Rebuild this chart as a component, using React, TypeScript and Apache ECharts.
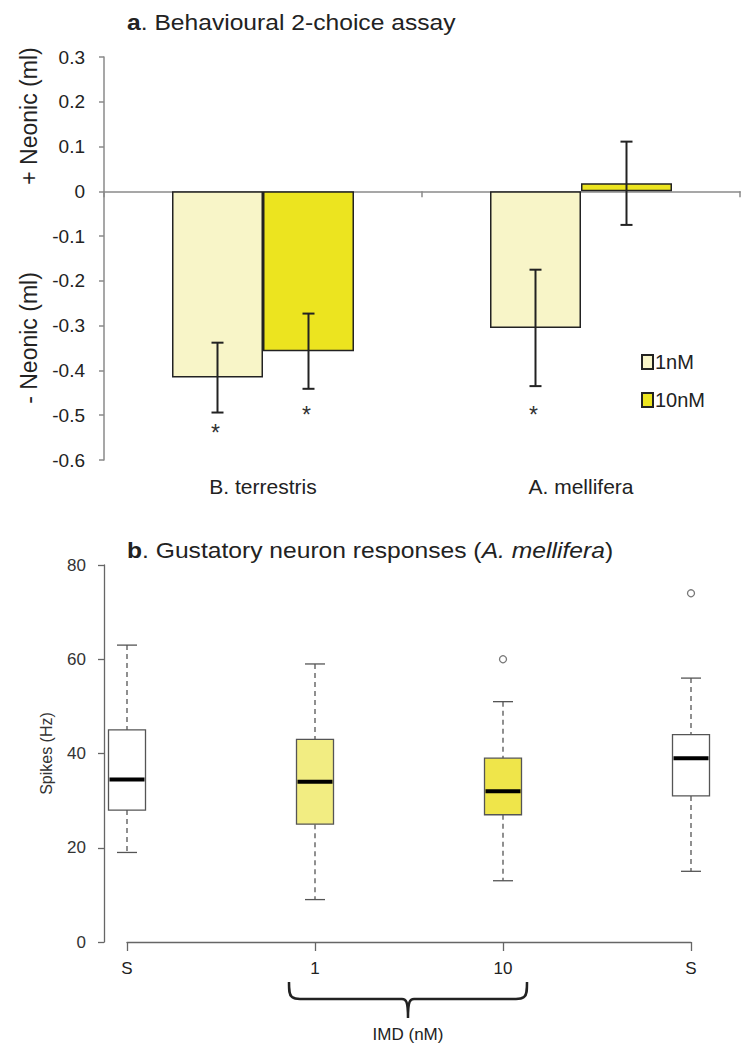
import React, { useEffect, useRef } from "react";
import * as echarts from "echarts";

// ---------- Panel a data ----------
const speciesCategories = ["B. terrestris", "A. mellifera"];
const doseNames = ["1nM", "10nM"];
const mean1nM = [-0.416, -0.305];
const mean10nM = [-0.357, 0.018];
const err1nM = [0.078, 0.13];
const err10nM = [0.084, 0.093];
const star1nM = [-0.535, -0.495];
const star10nM = [-0.495, NaN];
const yMinA = -0.6;
const yMaxA = 0.3;
const yStepA = 0.1;

// ---------- Panel b data ----------
const boxCategories = ["S", "1", "10", "S"];
const boxMin = [19, 9, 13, 15];
const boxQ1 = [28, 25, 27, 31];
const boxMedian = [34.5, 34, 32, 39];
const boxQ3 = [45, 43, 39, 44];
const boxMax = [63, 59, 51, 56];
const outlierCat = [2, 3];
const outlierVal = [60, 74];
const yMinB = 0;
const yMaxB = 80;
const yStepB = 20;

// ---------- styles ----------
const FONT = "'Liberation Sans', Arial, Helvetica, sans-serif";
const color1nM = "#f8f5c8";
const color10nM = "#ece41f";
const boxFill = ["#ffffff", "#f2ed82", "#efe54a", "#ffffff"];
const BAR_W = 91;
const BOX_W = 37;
const CAP_W = 20;

let braceRegistered = false;

export default function App() {
  const ref = useRef<HTMLDivElement>(null);

  useEffect(() => {
    if (!ref.current) return;
    if (!braceRegistered) {
      const d =
        "M0,0 C0,8 0,13 3,15 C5,16.5 7,17 11,17 L113,17 C117,17 119,19 119,36 C119,19 121,17 125,17 L227,17 C231,17 233,16.5 235,15 C238,13 238,8 238,0";
      echarts.graphic.registerShape("brace", echarts.graphic.extendPath(d, {}));
      braceRegistered = true;
    }
    const chart = echarts.init(ref.current, null, { renderer: "svg" });

    const errData: any[] = [];
    speciesCategories.forEach((_, i) => {
      errData.push([i, mean1nM[i] - err1nM[i], mean1nM[i] + err1nM[i], 0, star1nM[i]]);
      errData.push([i, mean10nM[i] - err10nM[i], mean10nM[i] + err10nM[i], 1, star10nM[i]]);
    });

    const boxData = boxCategories.map((_, i) => [
      i,
      boxMin[i],
      boxQ1[i],
      boxMedian[i],
      boxQ3[i],
      boxMax[i],
    ]);

    const fmtA = (v: number) => {
      const r = Math.round(v * 10) / 10;
      return Math.abs(r) < 1e-9 ? "0" : String(r);
    };

    const option: any = {
      animation: false,
      textStyle: { fontFamily: FONT },
      grid: [
        { left: 104, top: 57, width: 636, height: 403 },
        { left: 127, top: 565, width: 564, height: 377 },
      ],
      legend: {
        data: doseNames,
        orient: "vertical",
        left: 636,
        top: 347,
        itemWidth: 11,
        itemHeight: 14,
        itemGap: 18,
        icon: "rect",
        textStyle: { fontSize: 20, color: "#222", fontFamily: FONT, padding: [0, 0, 0, -3] },
      },
      xAxis: [
        {
          gridIndex: 0,
          type: "category",
          data: speciesCategories,
          position: "top",
          axisLine: { onZero: true, lineStyle: { color: "#8a8a8a", width: 1.5 } },
          axisTick: { show: true, inside: true, length: 6, lineStyle: { color: "#8a8a8a", width: 1.5 } },
          axisLabel: { show: false },
          splitLine: { show: false },
        },
        {
          gridIndex: 0,
          type: "category",
          data: speciesCategories,
          position: "bottom",
          axisLine: { show: false, onZero: false },
          axisTick: { show: false },
          axisLabel: { fontSize: 21, color: "#222", margin: 16, fontFamily: FONT },
          splitLine: { show: false },
        },
        {
          gridIndex: 1,
          type: "category",
          data: boxCategories,
          boundaryGap: false,
          position: "bottom",
          axisLine: { onZero: false, lineStyle: { color: "#666", width: 1.3 } },
          axisTick: { show: true, alignWithLabel: true, length: 9, lineStyle: { color: "#666", width: 1.3 } },
          axisLabel: { fontSize: 17, color: "#222", margin: 18, fontFamily: FONT },
          splitLine: { show: false },
        },
      ],
      yAxis: [
        {
          gridIndex: 0,
          type: "value",
          min: yMinA,
          max: yMaxA,
          interval: yStepA,
          axisLine: { show: true, lineStyle: { color: "#8a8a8a", width: 1.5 } },
          axisTick: { show: true, length: 5, lineStyle: { color: "#8a8a8a", width: 1.5 } },
          axisLabel: { fontSize: 19, color: "#222", margin: 19, formatter: fmtA, fontFamily: FONT },
          splitLine: { show: false },
        },
        {
          gridIndex: 1,
          type: "value",
          min: yMinB,
          max: yMaxB,
          interval: yStepB,
          offset: 23,
          name: "Spikes (Hz)",
          nameLocation: "middle",
          nameGap: 50,
          nameTextStyle: { fontSize: 16, color: "#333", fontFamily: FONT },
          axisLine: { show: true, lineStyle: { color: "#666", width: 1.3 } },
          axisTick: { show: true, length: 6, lineStyle: { color: "#666", width: 1.3 } },
          axisLabel: { fontSize: 17, color: "#333", margin: 18, fontFamily: FONT },
          splitLine: { show: false },
        },
      ],
      series: [
        {
          name: doseNames[0],
          type: "bar",
          xAxisIndex: 0,
          yAxisIndex: 0,
          data: mean1nM,
          barWidth: BAR_W,
          barGap: "0%",
          itemStyle: { color: color1nM, borderColor: "#222", borderWidth: 1.5 },
        },
        {
          name: doseNames[1],
          type: "bar",
          xAxisIndex: 0,
          yAxisIndex: 0,
          data: mean10nM,
          barWidth: BAR_W,
          barGap: "0%",
          itemStyle: { color: color10nM, borderColor: "#222", borderWidth: 1.5 },
        },
        {
          type: "custom",
          name: "errors",
          xAxisIndex: 0,
          yAxisIndex: 0,
          data: errData,
          encode: { x: 0, y: [1, 2] },
          z: 5,
          renderItem: (params: any, api: any) => {
            const cat = api.value(0);
            const lo = api.value(1);
            const hi = api.value(2);
            const s = api.value(3);
            const star = api.value(4);
            const off = (s === 0 ? -1 : 1) * (BAR_W / 2);
            const pLo = api.coord([cat, lo]);
            const pHi = api.coord([cat, hi]);
            const x = pLo[0] + off;
            const st = { stroke: "#222", lineWidth: 2 };
            const children: any[] = [
              { type: "line", shape: { x1: x, y1: pHi[1], x2: x, y2: pLo[1] }, style: st },
              { type: "line", shape: { x1: x - 6, y1: pHi[1], x2: x + 6, y2: pHi[1] }, style: st },
              { type: "line", shape: { x1: x - 6, y1: pLo[1], x2: x + 6, y2: pLo[1] }, style: st },
            ];
            if (isFinite(star)) {
              const ps = api.coord([cat, star]);
              children.push({
                type: "text",
                style: {
                  text: "*",
                  x: x - 2,
                  y: ps[1] + 2,
                  align: "center",
                  verticalAlign: "middle",
                  fontSize: 23,
                  fontFamily: FONT,
                  fill: "#333",
                },
              });
            }
            return { type: "group", children };
          },
        },
        {
          type: "custom",
          name: "boxes",
          xAxisIndex: 2,
          yAxisIndex: 1,
          data: boxData,
          encode: { x: 0, y: [1, 2, 3, 4, 5] },
          renderItem: (params: any, api: any) => {
            const i = api.value(0);
            const pMin = api.coord([i, api.value(1)]);
            const pQ1 = api.coord([i, api.value(2)]);
            const pMed = api.coord([i, api.value(3)]);
            const pQ3 = api.coord([i, api.value(4)]);
            const pMax = api.coord([i, api.value(5)]);
            const x = pMin[0];
            const wStyle = { stroke: "#555", lineWidth: 1.3, lineDash: [5, 4] };
            const cStyle = { stroke: "#555", lineWidth: 1.3 };
            return {
              type: "group",
              children: [
                { type: "line", shape: { x1: x, y1: pMax[1], x2: x, y2: pQ3[1] }, style: wStyle },
                { type: "line", shape: { x1: x, y1: pQ1[1], x2: x, y2: pMin[1] }, style: wStyle },
                { type: "line", shape: { x1: x - CAP_W / 2, y1: pMax[1], x2: x + CAP_W / 2, y2: pMax[1] }, style: cStyle },
                { type: "line", shape: { x1: x - CAP_W / 2, y1: pMin[1], x2: x + CAP_W / 2, y2: pMin[1] }, style: cStyle },
                {
                  type: "rect",
                  shape: { x: x - BOX_W / 2, y: pQ3[1], width: BOX_W, height: pQ1[1] - pQ3[1] },
                  style: { fill: boxFill[i], stroke: "#555", lineWidth: 1.3 },
                },
                {
                  type: "line",
                  shape: { x1: x - BOX_W / 2 + 1, y1: pMed[1], x2: x + BOX_W / 2 - 1, y2: pMed[1] },
                  style: { stroke: "#000", lineWidth: 4 },
                },
              ],
            };
          },
        },
        {
          type: "scatter",
          name: "outliers",
          xAxisIndex: 2,
          yAxisIndex: 1,
          data: outlierCat.map((c, k) => [c, outlierVal[k]]),
          symbol: "circle",
          symbolSize: 7,
          itemStyle: { color: "#fff", borderColor: "#555", borderWidth: 1.3 },
        },
      ],
      graphic: [
        {
          type: "text",
          x: 127,
          y: 22,
          scaleX: 1.12,
          style: {
            text: "{b|a}. Behavioural 2-choice assay",
            fontSize: 22,
            fontFamily: FONT,
            fill: "#222",
            verticalAlign: "middle",
            rich: { b: { fontWeight: "bold", fontSize: 22, fontFamily: FONT, fill: "#222" } },
          },
        },
        {
          type: "text",
          x: 29,
          y: 116,
          rotation: Math.PI / 2,
          style: {
            text: "+ Neonic (ml)",
            align: "center",
            verticalAlign: "middle",
            fontSize: 23,
            fontFamily: FONT,
            fill: "#222",
          },
        },
        {
          type: "text",
          x: 29,
          y: 338,
          rotation: Math.PI / 2,
          style: {
            text: "- Neonic (ml)",
            align: "center",
            verticalAlign: "middle",
            fontSize: 23,
            fontFamily: FONT,
            fill: "#222",
          },
        },
        {
          type: "text",
          x: 127,
          y: 550,
          scaleX: 1.12,
          style: {
            text: "{b|b}. Gustatory neuron responses ({i|A. mellifera})",
            fontSize: 22,
            fontFamily: FONT,
            fill: "#222",
            verticalAlign: "middle",
            rich: {
              b: { fontWeight: "bold", fontSize: 22, fontFamily: FONT, fill: "#222" },
              i: { fontStyle: "italic", fontSize: 22, fontFamily: FONT, fill: "#222" },
            },
          },
        },
        {
          type: "brace",
          x: 289,
          y: 982,
          style: { stroke: "#222", fill: "none", lineWidth: 2.5 },
        },
        {
          type: "text",
          x: 408,
          y: 1034,
          style: {
            text: "IMD (nM)",
            align: "center",
            verticalAlign: "middle",
            fontSize: 17,
            fontFamily: FONT,
            fill: "#222",
          },
        },
      ],
    };

    chart.setOption(option);
    return () => chart.dispose();
  }, []);

  return (
    <div
      ref={ref}
      style={{ position: "absolute", left: 0, top: 0, width: 752, height: 1050, background: "#fff" }}
    />
  );
}
